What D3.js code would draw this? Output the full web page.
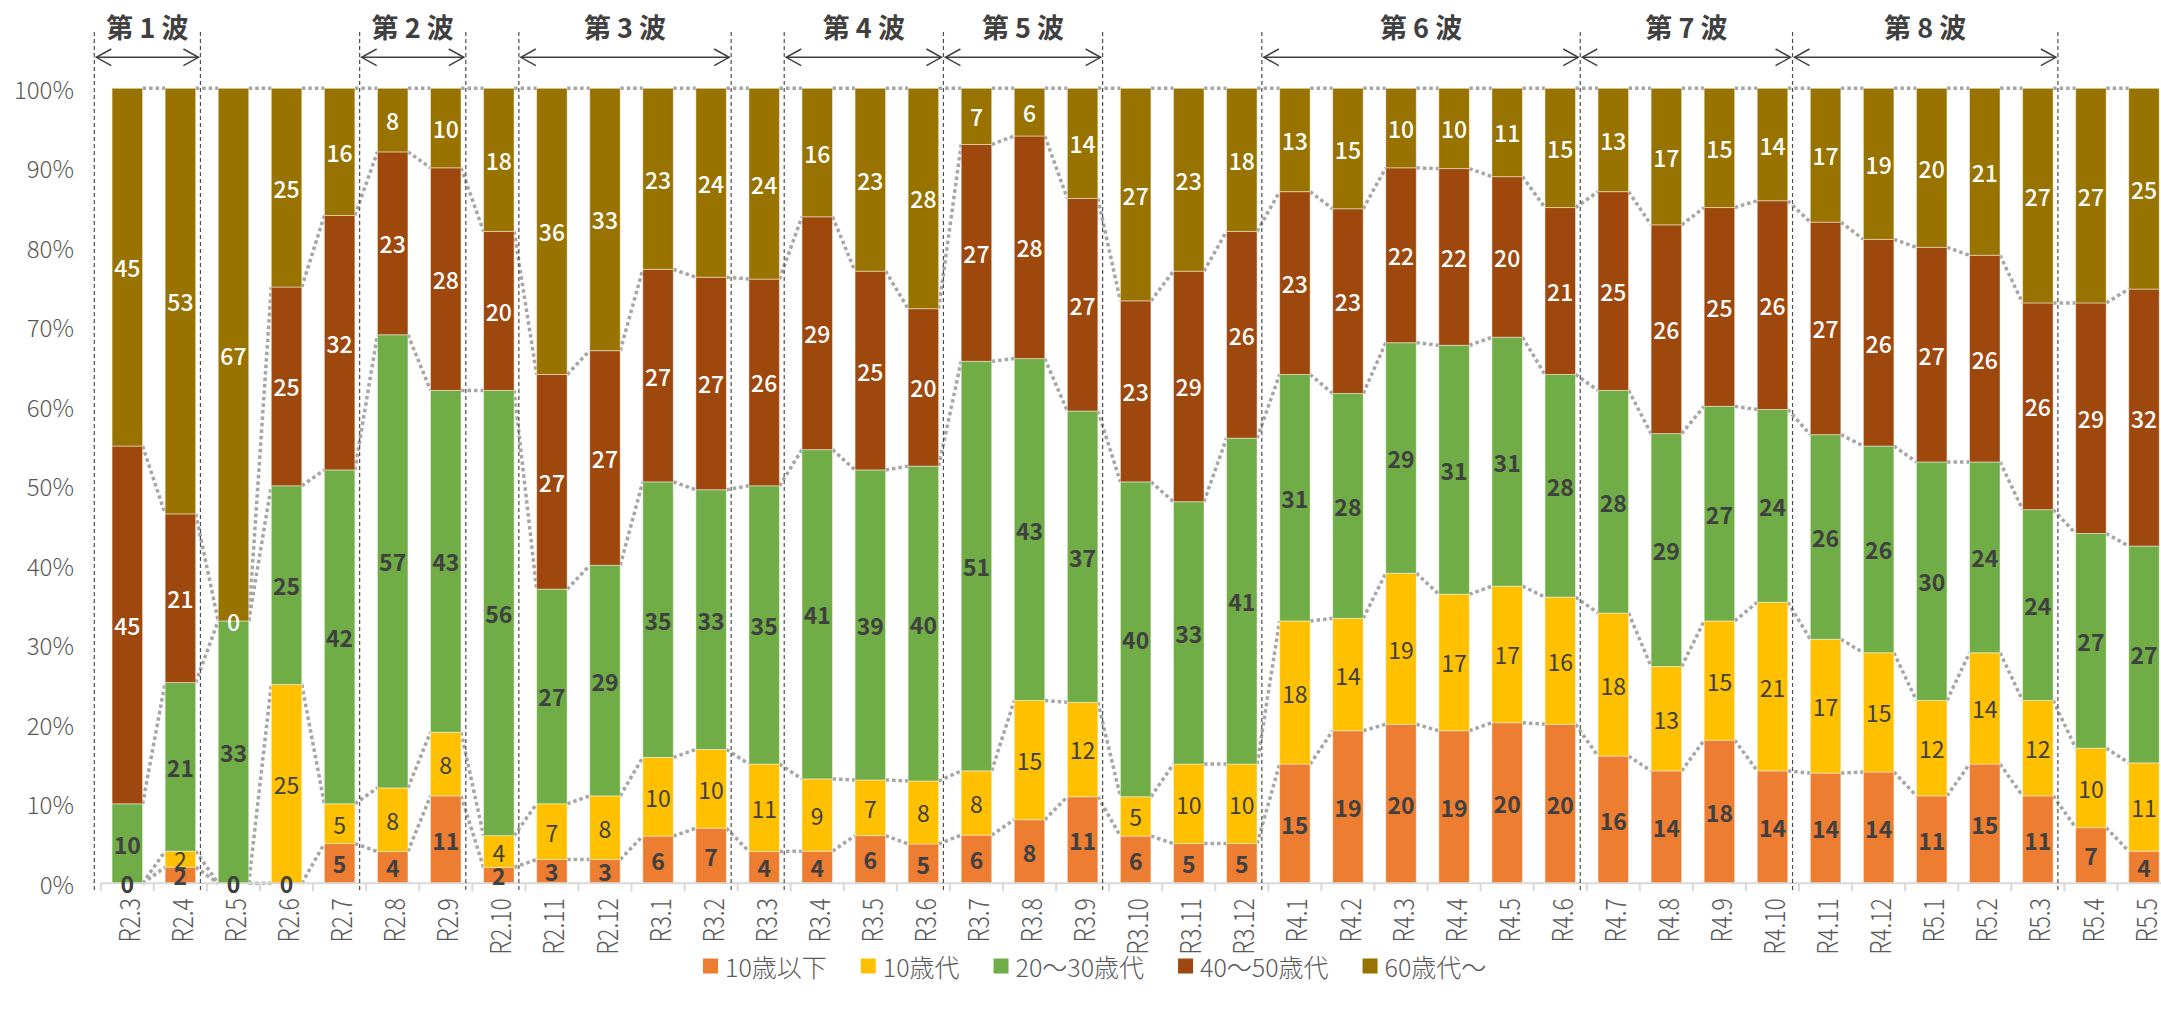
<!DOCTYPE html>
<html>
<head>
<meta charset="utf-8">
<script src="https://cdn.jsdelivr.net/npm/d3@7"></script>
<style>
  html, body { margin: 0; padding: 0; background: #fff; }
  svg { display: block; font-family: "Noto Sans CJK JP", "Noto Sans", sans-serif; }
</style>
</head>
<body>
<div id="chart"></div>
<script>
// 年月 (令和)
const categories = ['R2.3','R2.4','R2.5','R2.6','R2.7','R2.8','R2.9','R2.10','R2.11','R2.12',
  'R3.1','R3.2','R3.3','R3.4','R3.5','R3.6','R3.7','R3.8','R3.9','R3.10','R3.11','R3.12',
  'R4.1','R4.2','R4.3','R4.4','R4.5','R4.6','R4.7','R4.8','R4.9','R4.10','R4.11','R4.12',
  'R5.1','R5.2','R5.3','R5.4','R5.5'];

// 年代別の割合 (%)
const under10  = [0,2,0,0,5,4,11,2,3,3, 6,7,4,4,6,5,6,8,11,6,5,5, 15,19,20,19,20,20,16,14,18,14,14,14, 11,15,11,7,4];
const teens    = [0,2,0,25,5,8,8,4,7,8, 10,10,11,9,7,8,8,15,12,5,10,10, 18,14,19,17,17,16,18,13,15,21,17,15, 12,14,12,10,11];
const age2030  = [10,21,33,25,42,57,43,56,27,29, 35,33,35,41,39,40,51,43,37,40,33,41, 31,28,29,31,31,28,28,29,27,24,26,26, 30,24,24,27,27];
const age4050  = [45,21,0,25,32,23,28,20,27,27, 27,27,26,29,25,20,27,28,27,23,29,26, 23,23,22,22,20,21,25,26,25,26,27,26, 27,26,26,29,32];
const age60    = [45,53,67,25,16,8,10,18,36,33, 23,24,24,16,23,28,7,6,14,27,23,18, 13,15,10,10,11,15,13,17,15,14,17,19, 20,21,27,27,25];

const seriesNames = ['10歳以下', '10歳代', '20～30歳代', '40～50歳代', '60歳代～'];
const yTicks = [0, 0.1, 0.2, 0.3, 0.4, 0.5, 0.6, 0.7, 0.8, 0.9, 1];

// 感染の波
const waveLabels = ['第 1 波','第 2 波','第 3 波','第 4 波','第 5 波','第 6 波','第 7 波','第 8 波'];
const waveStart  = ['R2.3','R2.8','R2.11','R3.4','R3.7','R4.1','R4.7','R4.11'];
const waveEnd    = ['R2.4','R2.9','R3.2','R3.6','R3.9','R4.6','R4.10','R5.3'];

const colors = ['#ED7D31', '#FFC000', '#70AD47', '#9E480E', '#997300'];
const labelFill = ['#404040', '#404040', '#404040', '#ffffff', '#ffffff'];
const labelWeight = [700, 400, 700, 500, 500];

const width = 2161, height = 1017;
const y0 = 883.3, y1 = 88.3;
const step = 53.07;
const xLeft = 100.8;

const svg = d3.select('#chart').append('svg')
  .attr('width', width)
  .attr('height', height);

const keys = d3.range(seriesNames.length);
const series = [under10, teens, age2030, age4050, age60];
const rows = categories.map((c, i) => {
  const r = { cat: c };
  keys.forEach(k => r[k] = series[k][i]);
  return r;
});

const stacked = d3.stack()
  .keys(keys)
  .offset(d3.stackOffsetExpand)(rows);

const x = d3.scaleBand()
  .domain(categories)
  .range([xLeft, xLeft + step * categories.length])
  .padding(0);

const barW = x.bandwidth() * 0.575;
const barX = c => x(c) + (x.bandwidth() - barW) / 2;

const y = d3.scaleLinear().domain([0, 1]).range([y0, y1]);

// series lines (点線)
const lineG = svg.append('g');
stacked.forEach(s => {
  for (let i = 0; i < s.length - 1; i++) {
    const c1 = categories[i], c2 = categories[i + 1];
    lineG.append('line')
      .attr('x1', barX(c1) + barW)
      .attr('y1', y(s[i][1]))
      .attr('x2', barX(c2))
      .attr('y2', y(s[i + 1][1]))
      .attr('stroke', '#A6A6A6')
      .attr('stroke-width', 3.5)
      .attr('stroke-dasharray', '3.5 3');
  }
});

// bars
svg.append('g')
  .selectAll('g')
  .data(stacked)
  .join('g')
  .attr('fill', (d, i) => colors[i])
  .selectAll('rect')
  .data(d => d)
  .join('rect')
  .attr('x', d => barX(d.data.cat))
  .attr('y', d => y(d[1]))
  .attr('width', barW)
  .attr('height', d => y(d[0]) - y(d[1]))
  .attr('stroke', 'rgba(255,255,255,0.45)')
  .attr('stroke-width', 1);

// x axis
const axisG = svg.append('g');
axisG.append('line')
  .attr('x1', xLeft).attr('x2', width)
  .attr('y1', y0).attr('y2', y0)
  .attr('stroke', '#D9D9D9')
  .attr('stroke-width', 2);
axisG.selectAll('.tick')
  .data(categories)
  .join('line')
  .attr('x1', c => x(c)).attr('x2', c => x(c))
  .attr('y1', y0).attr('y2', y0 + 8)
  .attr('stroke', '#D9D9D9')
  .attr('stroke-width', 2);

axisG.selectAll('.catLabel')
  .data(categories)
  .join('text')
  .attr('transform', c => `translate(${x(c) + x.bandwidth() / 2},${y0 + 15}) rotate(-90) scale(0.82,1)`)
  .attr('text-anchor', 'end')
  .attr('dominant-baseline', 'central')
  .style('font-size', '28px')
  .style('font-weight', 300)
  .style('fill', '#595959')
  .text(c => c);

// y axis labels
svg.append('g')
  .selectAll('text')
  .data(yTicks)
  .join('text')
  .attr('x', 74)
  .attr('y', t => y(t))
  .attr('text-anchor', 'end')
  .attr('dominant-baseline', 'central')
  .style('font-size', '24px')
  .style('font-weight', 300)
  .style('fill', '#595959')
  .text(t => Math.round(t * 100) + '%');

// data labels
const labelG = svg.append('g');
stacked.forEach((s, k) => {
  labelG.selectAll('.lbl' + k)
    .data(s)
    .join('text')
    .attr('x', d => x(d.data.cat) + x.bandwidth() / 2)
    .attr('y', d => (y(d[0]) + y(d[1])) / 2)
    .attr('text-anchor', 'middle')
    .attr('dominant-baseline', 'central')
    .style('font-size', '23px')
    .style('font-weight', labelWeight[k])
    .style('fill', labelFill[k])
    .text(d => d.data[k]);
});

// waves: dashed separators, arrows, titles
const waveG = svg.append('g');
const offset = -6.5;
const sepX = new Set();
waveLabels.forEach((w, i) => {
  sepX.add(x(waveStart[i]) + offset);
  sepX.add(x(waveEnd[i]) + step + offset);
});
sepX.forEach(px => {
  waveG.append('line')
    .attr('x1', px).attr('x2', px)
    .attr('y1', 32).attr('y2', 890)
    .attr('stroke', '#4d4d4d')
    .attr('stroke-width', 1.2)
    .attr('stroke-dasharray', '4 3');
});

const arrowY = 57.3;
waveLabels.forEach((w, i) => {
  const a = x(waveStart[i]) + offset + 2;
  const b = x(waveEnd[i]) + step + offset - 2;
  waveG.append('line')
    .attr('x1', a).attr('x2', b)
    .attr('y1', arrowY).attr('y2', arrowY)
    .attr('stroke', '#404040')
    .attr('stroke-width', 1.5);
  waveG.append('polyline')
    .attr('points', `${a + 15},${arrowY - 8.3} ${a},${arrowY} ${a + 15},${arrowY + 8.3}`)
    .attr('fill', 'none')
    .attr('stroke', '#404040')
    .attr('stroke-width', 1.5);
  waveG.append('polyline')
    .attr('points', `${b - 15},${arrowY - 8.3} ${b},${arrowY} ${b - 15},${arrowY + 8.3}`)
    .attr('fill', 'none')
    .attr('stroke', '#404040')
    .attr('stroke-width', 1.5);
  waveG.append('text')
    .attr('x', (a + b) / 2)
    .attr('y', 26)
    .attr('text-anchor', 'middle')
    .attr('dominant-baseline', 'central')
    .style('font-size', '27px')
    .style('font-weight', 700)
    .style('fill', '#404040')
    .text(w);
});

// legend
const legendG = svg.append('g');
let lx = 703;
const legendY = 966;
seriesNames.forEach((name, i) => {
  legendG.append('rect')
    .attr('x', lx).attr('y', legendY - 7.5)
    .attr('width', 15).attr('height', 15)
    .attr('fill', colors[i]);
  const t = legendG.append('text')
    .attr('x', lx + 22)
    .attr('y', legendY)
    .attr('dominant-baseline', 'central')
    .style('font-size', '25px')
    .style('font-weight', 300)
    .style('fill', '#595959')
    .text(name);
  lx += 22 + t.node().getComputedTextLength() + 34;
});
</script>
</body>
</html>
